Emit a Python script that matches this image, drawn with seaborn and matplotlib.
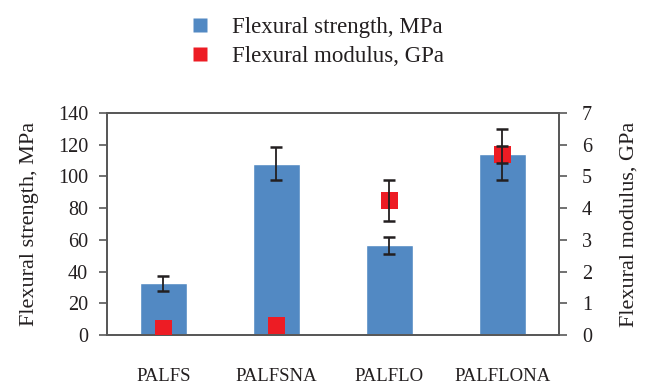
import matplotlib
matplotlib.use("Agg")
import matplotlib.pyplot as plt
import seaborn as sns
import pandas as pd
import numpy as np
from matplotlib.lines import Line2D

categories = ["PALFS", "PALFSNA", "PALFLO", "PALFLONA"]
strength = [32.5, 108, 56.5, 114]
strength_err = [5, 10.5, 5.5, 16]
modulus = [0.21, 0.29, 4.24, 5.7]
modulus_err = [0, 0, 0.65, 0.27]

sns.set_theme(style="white")
plt.rcParams['font.family'] = ['Liberation Serif', 'DejaVu Serif']
text_color = "#231F20"
spine_color = "#595959"
blue = "#5289C3"
red = "#ED1C24"

fig = plt.figure(figsize=(6.5, 3.85), dpi=100)
ax = fig.add_axes([0.1646, 0.1299, 0.6954, 0.5766])

df = pd.DataFrame({"cat": categories, "strength": strength,
                   "modulus": modulus})
sns.barplot(data=df, x="cat", y="strength", color=blue, width=0.41,
            saturation=1, ax=ax, errorbar=None)
xs = np.arange(len(categories))
ax.errorbar(xs, strength, yerr=strength_err, fmt="none", ecolor="#231F20",
            elinewidth=1.3, capsize=4.5, capthick=1.8, zorder=5)
ax.set_ylim(0, 140)
ax.set_yticks(range(0, 141, 20))
ax.set_xlim(-0.5, 3.5)
ax.set_xlabel("")
ax.set_ylabel("Flexural strength, MPa", fontsize=16, color=text_color, labelpad=14)

ax2 = ax.twinx()
sns.scatterplot(data=df, x="cat", y="modulus", marker="s", s=150, color=red,
                edgecolor="none", linewidth=0, ax=ax2, zorder=4)
mask = np.array(modulus_err) > 0
ax2.errorbar(xs[mask], np.array(modulus)[mask], yerr=np.array(modulus_err)[mask],
             fmt="none", ecolor="#231F20", elinewidth=1.3, capsize=4.5,
             capthick=1.8, zorder=6)
ax2.set_ylim(0, 7)
ax2.set_yticks(range(0, 8))
ax2.set_ylabel("Flexural modulus, GPa", fontsize=16, color=text_color, labelpad=20)
ax2.set_xlim(-0.5, 3.5)

for a in (ax, ax2):
    for s in a.spines.values():
        s.set_color(spine_color)
        s.set_linewidth(1.4)
    a.tick_params(axis="y", length=5.5, width=1.2, color=spine_color,
                  labelsize=14.5, labelcolor=text_color, pad=8)
ax.tick_params(axis="y", left=True, right=False, direction="out")
ax2.tick_params(axis="y", right=True, left=False, direction="out", pad=11)
ax.tick_params(axis="x", length=0, labelsize=13.5, labelcolor=text_color, pad=24)

handles = [Line2D([], [], marker="s", linestyle="none", markersize=10,
                  markerfacecolor=blue, markeredgecolor="none"),
           Line2D([], [], marker="s", linestyle="none", markersize=10,
                  markerfacecolor=red, markeredgecolor="none")]
fig.legend(handles, ["Flexural strength, MPa", "Flexural modulus, GPa"],
           loc="upper left", bbox_to_anchor=(0.24, 1.01), frameon=False,
           fontsize=16.5, handletextpad=0.4, labelspacing=0.36,
           labelcolor=text_color)

fig.savefig("out.png", dpi=100)
